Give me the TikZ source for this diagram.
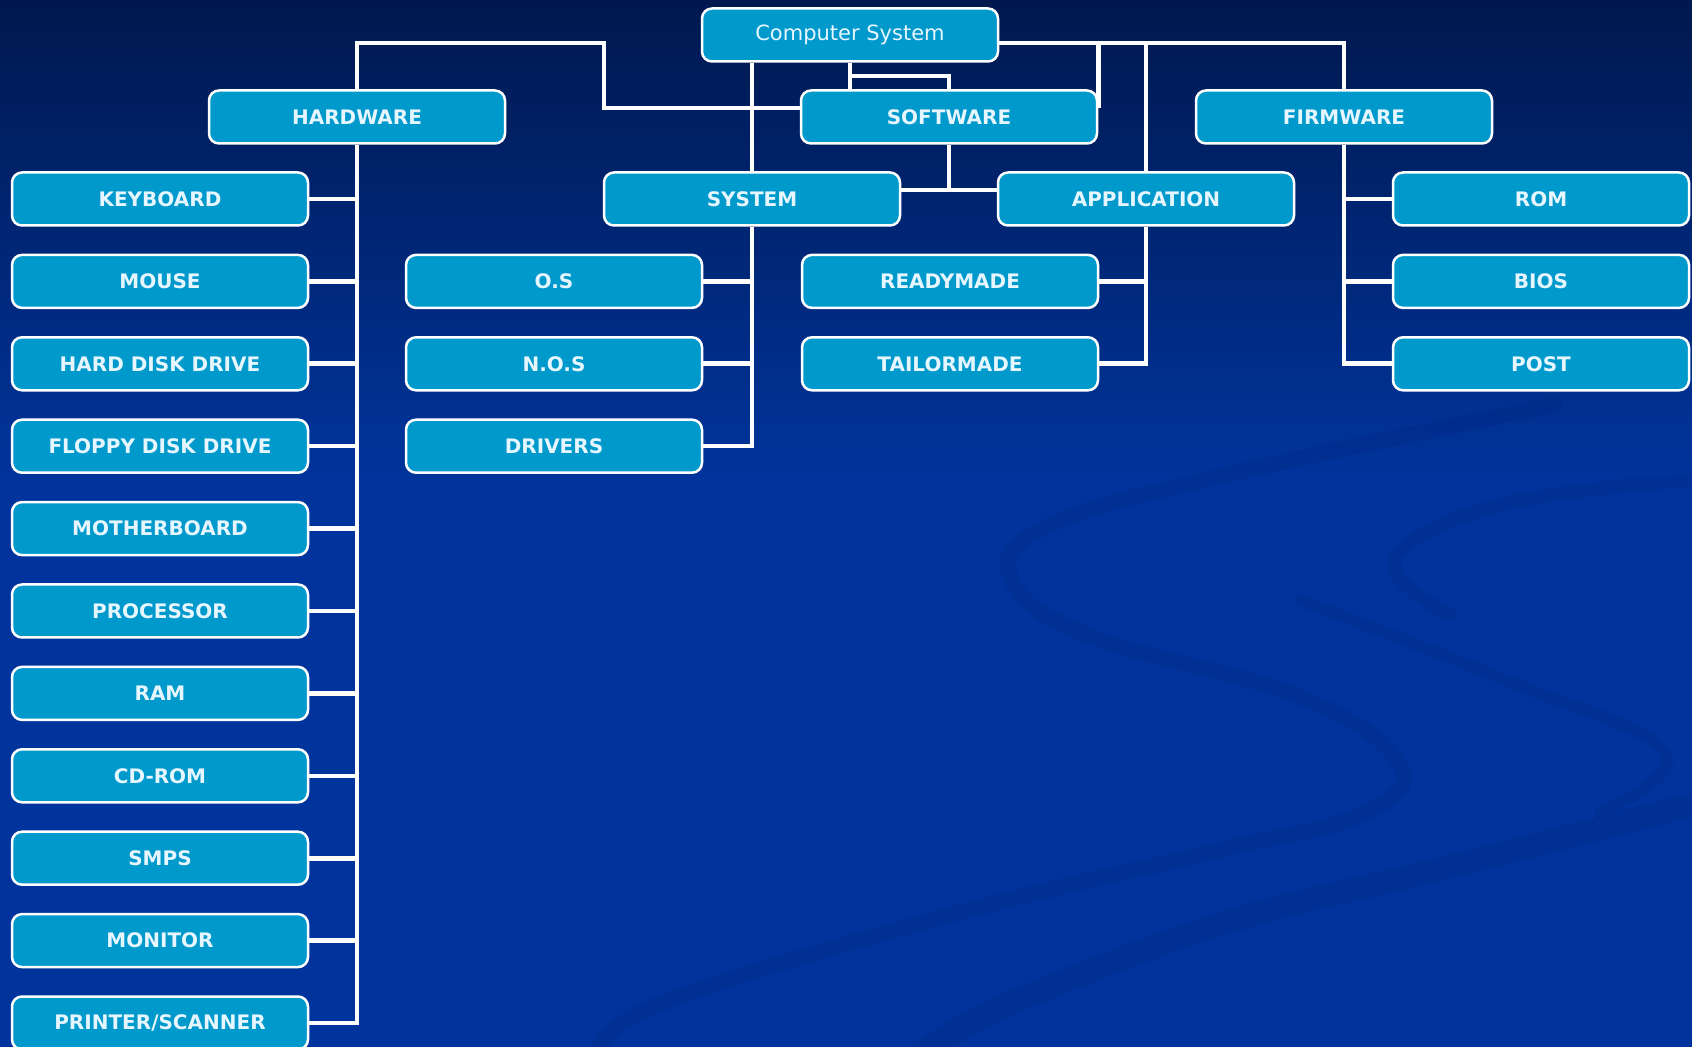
\documentclass[tikz,border=0pt]{standalone}
\usepackage{fontspec}
\setmainfont{DejaVu Sans}
\definecolor{boxblue}{RGB}{0,153,204}
\definecolor{bgtop}{RGB}{0,24,78}
\definecolor{bgbot}{RGB}{0,52,156}
\definecolor{swooshblue}{RGB}{0,38,128}
\definecolor{txtwhite}{RGB}{230,246,255}
\tikzset{
  item/.style={draw=white, line width=1.25pt, fill=boxblue, rounded corners=5pt,
    minimum width=148pt, minimum height=26.5pt, inner sep=0pt, text=txtwhite,
    font=\bfseries\fontsize{10}{12}\selectfont},
  link/.style={draw=white, line width=2.3pt},
  swoosh/.style={draw=swooshblue, opacity=0.28, line cap=round},
}
\begin{document}
\begin{tikzpicture}[x=0.5pt,y=-0.5pt]
    \useasboundingbox (0,0) rectangle (1692,1047);
    \fill[bgbot] (0,0) rectangle (1692,1047);
    \shade[top color=bgtop, bottom color=bgbot] (0,0) rectangle (1692,480);

    \draw[swoosh, line width=8pt] plot[smooth, tension=0.7] coordinates
      {(1554,405) (1230,474) (1050,525) (1011,578) (1090,636) (1300,697) (1400,765) (1360,815) (1220,850) (950,915) (670,1000) (600,1047)};
    \draw[swoosh, line width=7pt] plot[smooth, tension=0.7] coordinates
      {(1692,480) (1500,505) (1395,560) (1450,615)};
    \draw[swoosh, line width=6pt] plot[smooth, tension=0.7] coordinates
      {(1300,600) (1505,680) (1665,752) (1600,812)};
    \draw[swoosh, line width=12pt] plot[smooth, tension=0.6] coordinates
      {(1692,805) (1436,870) (1227,922) (1018,1000) (930,1047)};

    \coordinate (top) at (0,43);
    \coordinate (hwbend) at (604,43);
    \coordinate (swin) at (0,108);
    \coordinate (loop) at (0,76);
    \coordinate (mid) at (0,190);

    \node[item, font=\fontsize{10.5}{12}\selectfont] (cs) at (850,35) {Computer System};
    \node[item] (hw) at (357,117) {HARDWARE};
    \node[item] (sw) at (949,117) {SOFTWARE};
    \node[item] (fw) at (1344,117) {FIRMWARE};
    \node[item] (sys) at (752,199) {SYSTEM};
    \node[item] (app) at (1146,199) {APPLICATION};

    \node[item] (os) at (554,281.4) {O.S};
    \node[item] (nos) at (554,363.8) {N.O.S};
    \node[item] (drv) at (554,446.2) {DRIVERS};
    \node[item] (ready) at (950,281.4) {READYMADE};
    \node[item] (tailor) at (950,363.8) {TAILORMADE};
    \node[item] (rom) at (1541,199) {ROM};
    \node[item] (bios) at (1541,281.4) {BIOS};
    \node[item] (post) at (1541,363.8) {POST};

    \draw[link] (hw.north) |- (hwbend) |- (sw.west |- swin);
    \draw[link] (cs.south -| sys) -- (sys.north);
    \draw[link] (cs.south) -- (cs.south |- sw.north);
    \draw[link] (cs.south |- loop) -| (sw.north);
    \draw[link] (cs.east |- top) -| (fw.north);
    \draw[link] (sw.east |- top) -- (sw.east |- swin);
    \draw[link] (app.north |- top) -- (app.north);
    \draw[link] (sw.south) -- (sw.south |- mid);
    \draw[link] (sys.east |- mid) -- (app.west |- mid);

    \draw[link] (sys.south) |- (drv.east);
    \draw[link] (os.east) -- (os.east -| sys);
    \draw[link] (nos.east) -- (nos.east -| sys);
    \draw[link] (app.south) |- (tailor.east);
    \draw[link] (ready.east) -- (ready.east -| app);
    \draw[link] (fw.south) |- (post.west);
    \draw[link] (rom.west) -- (rom.west -| fw);
    \draw[link] (bios.west) -- (bios.west -| fw);

    \foreach \part [count=\i] in {KEYBOARD, MOUSE, HARD DISK DRIVE, FLOPPY DISK DRIVE,
        MOTHERBOARD, PROCESSOR, RAM, CD-ROM, SMPS, MONITOR, PRINTER/SCANNER}
    {
      \node[item] (h\i) at (160,{199+82.4*(\i-1)}) {\part};
      \draw[link] (h\i.east) -- (h\i.east -| hw);
    }
    \draw[link] (hw.south) -- (hw.south |- h11.east) -- (h11.east);
\end{tikzpicture}
\end{document}
